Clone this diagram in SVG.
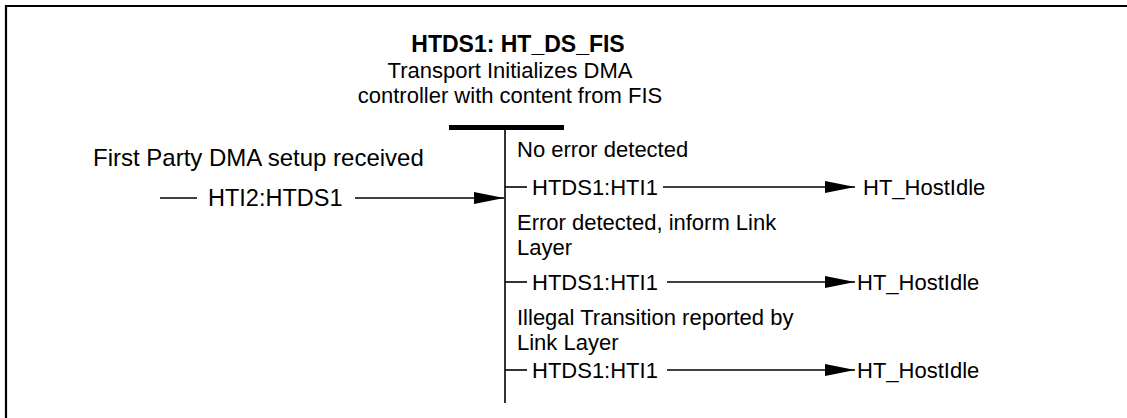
<svg xmlns="http://www.w3.org/2000/svg" width="1127" height="418" viewBox="0 0 1127 418">
<style>
text{font-family:"Liberation Sans",Arial,sans-serif;font-size:22px;fill:#000}
.b{font-weight:bold;font-size:23px}
.lg{font-size:23.5px}
.ln{stroke:#000;stroke-width:1.6;fill:none}
</style>
<defs>
<marker id="ah" markerUnits="userSpaceOnUse" markerWidth="30" markerHeight="12" refX="30" refY="6" orient="auto">
<path d="M0,0 L30,6 L0,12 Z" fill="#000"/>
</marker>
</defs>
<rect width="1127" height="418" fill="#fff"/>
<path d="M6,420 V6 H1130" stroke="#000" stroke-width="2.2" fill="none"/>
<g id="state-HTDS1">
<text class="b" x="518" y="52" text-anchor="middle">HTDS1: HT_DS_FIS</text>
<text x="510" y="78" text-anchor="middle">Transport Initializes DMA</text>
<text x="510" y="103" text-anchor="middle">controller with content from FIS</text>
<rect x="449" y="125" width="115" height="5" fill="#000"/>
<line class="ln" x1="505" y1="127" x2="505" y2="403"/>
</g>
<g id="connectors">
<text class="lg" x="93" y="166" style="font-size:24px">First Party DMA setup received</text>
<line class="ln" x1="160" y1="198" x2="197" y2="198"/>
<text class="lg" x="208" y="206">HTI2:HTDS1</text>
<line class="ln" x1="355" y1="198" x2="504" y2="198" marker-end="url(#ah)"/>

<text x="517" y="157">No error detected</text>
<line class="ln" x1="505" y1="187" x2="527" y2="187"/>
<text x="532" y="195">HTDS1:HTI1</text>
<line class="ln" x1="663" y1="187" x2="855" y2="187" marker-end="url(#ah)"/>

<text x="517" y="230">Error detected, inform Link</text>
<text x="517" y="255">Layer</text>
<line class="ln" x1="505" y1="282" x2="527" y2="282"/>
<text x="532" y="290">HTDS1:HTI1</text>
<line class="ln" x1="667" y1="282" x2="855" y2="282" marker-end="url(#ah)"/>

<text x="517" y="325">Illegal Transition reported by</text>
<text x="517" y="350">Link Layer</text>
<line class="ln" x1="505" y1="370" x2="527" y2="370"/>
<text x="532" y="378">HTDS1:HTI1</text>
<line class="ln" x1="667" y1="370" x2="855" y2="370" marker-end="url(#ah)"/>
</g>
<g id="state-HostIdle-1"><text x="863" y="195">HT_HostIdle</text></g>
<g id="state-HostIdle-2"><text x="857" y="290">HT_HostIdle</text></g>
<g id="state-HostIdle-3"><text x="857" y="378">HT_HostIdle</text></g>
</svg>
